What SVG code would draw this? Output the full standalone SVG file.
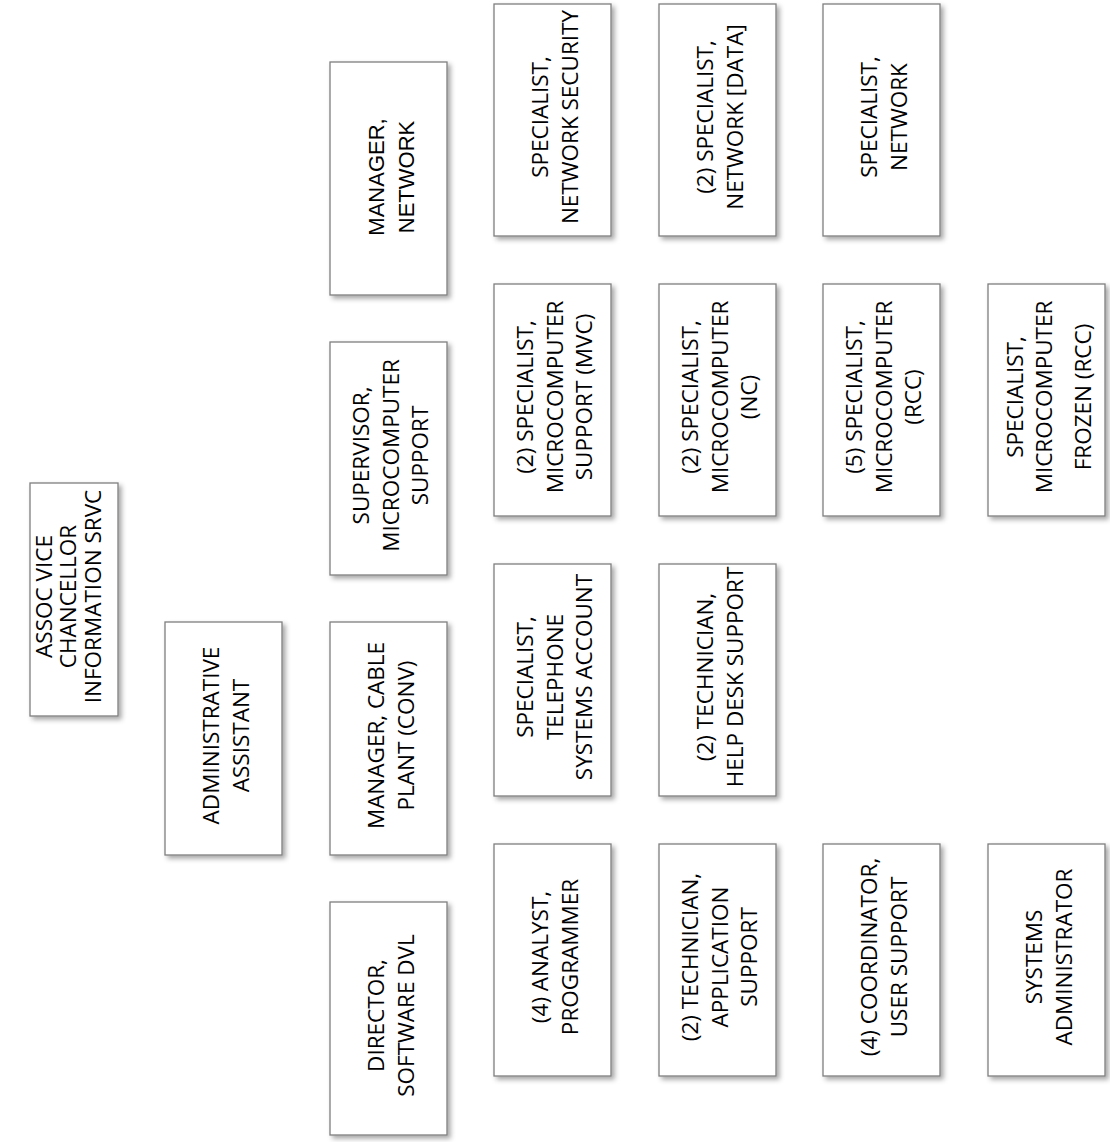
<svg xmlns="http://www.w3.org/2000/svg" width="1110" height="1142" viewBox="0 0 1110 1142">
<style>
.box{fill:#ffffff;stroke:#7f7f7f;stroke-width:1.3;filter:url(#sh)}
.lbl{font-family:"Open Sans","Liberation Sans",sans-serif;font-size:22.5px;fill:#000;text-anchor:middle}
.arial{font-family:"Liberation Sans",Arial,sans-serif;font-size:22px}
</style>
<defs>
<filter id="sh" x="-10%" y="-10%" width="130%" height="130%">
<feDropShadow dx="3" dy="3" stdDeviation="2.5" flood-color="#000" flood-opacity="0.35"/>
</filter>
</defs>
<rect width="1110" height="1142" fill="#ffffff"/>
<g id="connectors"></g>
<g id="n-assoc"><rect class="box" x="30" y="483" width="88" height="233"/><text class="lbl" transform="translate(74,596.5) rotate(-90)"><tspan x="0" y="-22.2">ASSOC VICE</tspan><tspan x="0" y="2.4">CHANCELLOR</tspan><tspan x="0" y="27">INFORMATION SRVC</tspan></text></g>
<g id="n-admin"><rect class="box" x="165" y="622" width="117" height="233"/><text class="lbl" transform="translate(223.5,735.5) rotate(-90)"><tspan x="0" y="-4.35">ADMINISTRATIVE</tspan><tspan x="0" y="25.15">ASSISTANT</tspan></text></g>
<g id="n-mgr-net"><rect class="box" x="330" y="62" width="117" height="233"/><text class="lbl arial" transform="translate(388.5,177) rotate(-90)"><tspan x="0" y="-4.35">MANAGER,</tspan><tspan x="0" y="25.15">NETWORK</tspan></text></g>
<g id="n-sup-micro"><rect class="box" x="330" y="342" width="117" height="233"/><text class="lbl" transform="translate(388.5,455.5) rotate(-90)"><tspan x="0" y="-19.1">SUPERVISOR,</tspan><tspan x="0" y="10.4">MICROCOMPUTER</tspan><tspan x="0" y="39.9">SUPPORT</tspan></text></g>
<g id="n-mgr-cable"><rect class="box" x="330" y="622" width="117" height="233"/><text class="lbl" transform="translate(388.5,735.5) rotate(-90)"><tspan x="0" y="-4.35">MANAGER, CABLE</tspan><tspan x="0" y="25.15">PLANT (CONV)</tspan></text></g>
<g id="n-dir-sw"><rect class="box" x="330" y="902" width="117" height="233"/><text class="lbl" transform="translate(388.5,1015.5) rotate(-90)"><tspan x="0" y="-4.35">DIRECTOR,</tspan><tspan x="0" y="25.15">SOFTWARE DVL</tspan></text></g>
<g id="n-spec-netsec"><rect class="box" x="494" y="4" width="117" height="232"/><text class="lbl" transform="translate(552.5,117) rotate(-90)"><tspan x="0" y="-4.35">SPECIALIST,</tspan><tspan x="0" y="25.15">NETWORK SECURITY</tspan></text></g>
<g id="n-spec-netdata"><rect class="box" x="659" y="4" width="117" height="232"/><text class="lbl" transform="translate(717.5,117) rotate(-90)"><tspan x="0" y="-4.35">(2) SPECIALIST,</tspan><tspan x="0" y="25.15">NETWORK [DATA]</tspan></text></g>
<g id="n-spec-net"><rect class="box" x="823" y="4" width="117" height="232"/><text class="lbl" transform="translate(881.5,117) rotate(-90)"><tspan x="0" y="-4.35">SPECIALIST,</tspan><tspan x="0" y="25.15">NETWORK</tspan></text></g>
<g id="n-spec-mvc"><rect class="box" x="494" y="284" width="117" height="232"/><text class="lbl" transform="translate(552.5,397) rotate(-90)"><tspan x="0" y="-19.1">(2) SPECIALIST,</tspan><tspan x="0" y="10.4">MICROCOMPUTER</tspan><tspan x="0" y="39.9">SUPPORT (MVC)</tspan></text></g>
<g id="n-spec-nc"><rect class="box" x="659" y="284" width="117" height="232"/><text class="lbl" transform="translate(717.5,397) rotate(-90)"><tspan x="0" y="-19.1">(2) SPECIALIST,</tspan><tspan x="0" y="10.4">MICROCOMPUTER</tspan><tspan x="0" y="39.9">(NC)</tspan></text></g>
<g id="n-spec-rcc"><rect class="box" x="823" y="284" width="117" height="232"/><text class="lbl" transform="translate(881.5,397) rotate(-90)"><tspan x="0" y="-19.1">(5) SPECIALIST,</tspan><tspan x="0" y="10.4">MICROCOMPUTER</tspan><tspan x="0" y="39.9">(RCC)</tspan></text></g>
<g id="n-spec-frozen"><rect class="box" x="988" y="284" width="117" height="232"/><text class="lbl" transform="translate(1046.5,397) rotate(-90)"><tspan x="0" y="-24">SPECIALIST,</tspan><tspan x="0" y="5.5">MICROCOMPUTER</tspan><tspan x="0" y="44.5">FROZEN (RCC)</tspan></text></g>
<g id="n-spec-tel"><rect class="box" x="494" y="564" width="117" height="232"/><text class="lbl" transform="translate(552.5,677) rotate(-90)"><tspan x="0" y="-19.1">SPECIALIST,</tspan><tspan x="0" y="10.4">TELEPHONE</tspan><tspan x="0" y="39.9">SYSTEMS ACCOUNT</tspan></text></g>
<g id="n-tech-help"><rect class="box" x="659" y="564" width="117" height="232"/><text class="lbl" transform="translate(717.5,677) rotate(-90)"><tspan x="0" y="-4.35">(2) TECHNICIAN,</tspan><tspan x="0" y="25.15">HELP DESK SUPPORT</tspan></text></g>
<g id="n-analyst"><rect class="box" x="494" y="844" width="117" height="232"/><text class="lbl" transform="translate(552.5,957) rotate(-90)"><tspan x="0" y="-4.35">(4) ANALYST,</tspan><tspan x="0" y="25.15">PROGRAMMER</tspan></text></g>
<g id="n-tech-app"><rect class="box" x="659" y="844" width="117" height="232"/><text class="lbl" transform="translate(717.5,957) rotate(-90)"><tspan x="0" y="-19.1">(2) TECHNICIAN,</tspan><tspan x="0" y="10.4">APPLICATION</tspan><tspan x="0" y="39.9">SUPPORT</tspan></text></g>
<g id="n-coord"><rect class="box" x="823" y="844" width="117" height="232"/><text class="lbl" transform="translate(881.5,957) rotate(-90)"><tspan x="0" y="-4.35">(4) COORDINATOR,</tspan><tspan x="0" y="25.15">USER SUPPORT</tspan></text></g>
<g id="n-sysadmin"><rect class="box" x="988" y="844" width="117" height="232"/><text class="lbl" transform="translate(1046.5,957) rotate(-90)"><tspan x="0" y="-4.35">SYSTEMS</tspan><tspan x="0" y="25.15">ADMINISTRATOR</tspan></text></g>
</svg>
